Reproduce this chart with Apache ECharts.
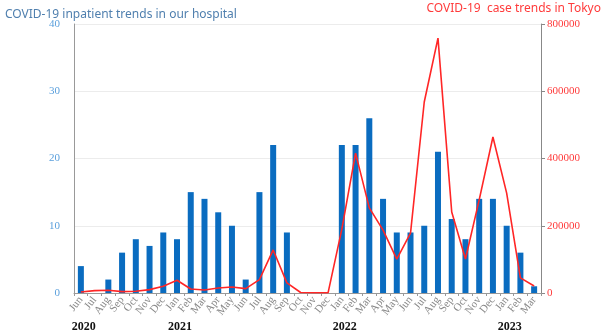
<!DOCTYPE html>
<html>
<head>
<meta charset="utf-8">
<script src="https://cdn.jsdelivr.net/npm/echarts@6/dist/echarts.min.js"></script>
<style>
  html, body { margin: 0; padding: 0; background: #fff; }
  #chart { width: 606px; height: 330px; }
</style>
</head>
<body>
<div id="chart"></div>
<script>
// 月份（2020年6月 - 2023年3月）
var months = ['Jun', 'Jul', 'Aug', 'Sep', 'Oct', 'Nov', 'Dec',
    'Jan', 'Feb', 'Mar', 'Apr', 'May', 'Jun', 'Jul', 'Aug', 'Sep', 'Oct', 'Nov', 'Dec',
    'Jan', 'Feb', 'Mar', 'Apr', 'May', 'Jun', 'Jul', 'Aug', 'Sep', 'Oct', 'Nov', 'Dec',
    'Jan', 'Feb', 'Mar'];
// 年份标签（按月份下标）
var years = ['2020', '', '', '', '', '', '',
    '2021', '', '', '', '', '', '', '', '', '', '', '',
    '2022', '', '', '', '', '', '', '', '', '', '', '',
    '2023', '', ''];
// 本院住院人数
var inpatients = [4, 0, 2, 6, 8, 7, 9,
    8, 15, 14, 12, 10, 2, 15, 22, 9, 0, 0, 0,
    22, 22, 26, 14, 9, 9, 10, 21, 11, 8, 14, 14,
    10, 6, 1];
// 东京病例数
var tokyoCases = [3000, 7000, 8000, 4000, 5000, 10000, 20000,
    38000, 12000, 9000, 15000, 18000, 13000, 40000, 128000, 30000, 1500, 700, 1000,
    190000, 416000, 253000, 187000, 101000, 178000, 568000, 758000, 241000, 101000, 277000, 464000,
    297000, 45000, 21000];

var chart = echarts.init(document.getElementById('chart'));
var option = {
    animation: false,
    title: [
        {
            text: 'COVID-19 inpatient trends in our hospital',
            left: 0,
            top: 4,
            textStyle: {
                color: '#4f7fae',
                fontWeight: 'normal',
                fontSize: 12,
                fontFamily: 'Noto Sans'
            }
        },
        {
            text: 'COVID-19  case trends in Tokyo',
            right: 0,
            top: -2,
            textStyle: {
                color: '#ff3b3b',
                fontWeight: 'normal',
                fontSize: 12,
                fontFamily: 'Noto Sans'
            }
        }
    ],
    grid: {
        left: 74,
        right: 65,
        top: 24,
        bottom: 37,
        outerBoundsMode: 'none'
    },
    xAxis: [
        {
            type: 'category',
            data: months,
            axisLine: { lineStyle: { color: '#999' } },
            axisTick: { show: true, length: 3, lineStyle: { color: '#999' } },
            axisLabel: {
                interval: 0,
                rotate: 52,
                margin: 5,
                color: '#888',
                fontSize: 11,
                fontFamily: 'Liberation Serif'
            }
        },
        {
            type: 'category',
            data: years,
            position: 'bottom',
            offset: 20,
            axisLine: { show: false },
            axisTick: { show: false },
            axisLabel: {
                interval: 0,
                color: '#111',
                fontSize: 12,
                fontWeight: 'bold',
                fontFamily: 'Liberation Serif',
                padding: [0, 0, 0, 6]
            }
        }
    ],
    yAxis: [
        {
            type: 'value',
            min: 0,
            max: 40,
            interval: 10,
            axisLine: { show: true, lineStyle: { color: '#999' } },
            axisTick: { show: false },
            splitLine: { lineStyle: { color: '#ececec' } },
            axisLabel: {
                color: '#5a9fdc',
                fontSize: 11,
                margin: 14,
                fontFamily: 'Liberation Serif'
            }
        },
        {
            type: 'value',
            min: 0,
            max: 800000,
            interval: 200000,
            position: 'right',
            axisLine: { show: true, lineStyle: { color: '#888' } },
            axisTick: { show: true, length: 4, lineStyle: { color: '#888' } },
            splitLine: { show: false },
            axisLabel: {
                color: '#ff3b3b',
                fontSize: 11,
                margin: 6,
                fontFamily: 'Liberation Serif',
                formatter: function (value) {
                    return String(value);
                }
            }
        }
    ],
    series: [
        {
            name: 'inpatients',
            type: 'bar',
            barWidth: 6,
            itemStyle: { color: '#0a6cc0' },
            data: inpatients
        },
        {
            name: 'Tokyo',
            type: 'line',
            yAxisIndex: 1,
            symbol: 'none',
            lineStyle: { color: '#ff2626', width: 1.6 },
            data: tokyoCases
        }
    ]
};
chart.setOption(option);
</script>
</body>
</html>
